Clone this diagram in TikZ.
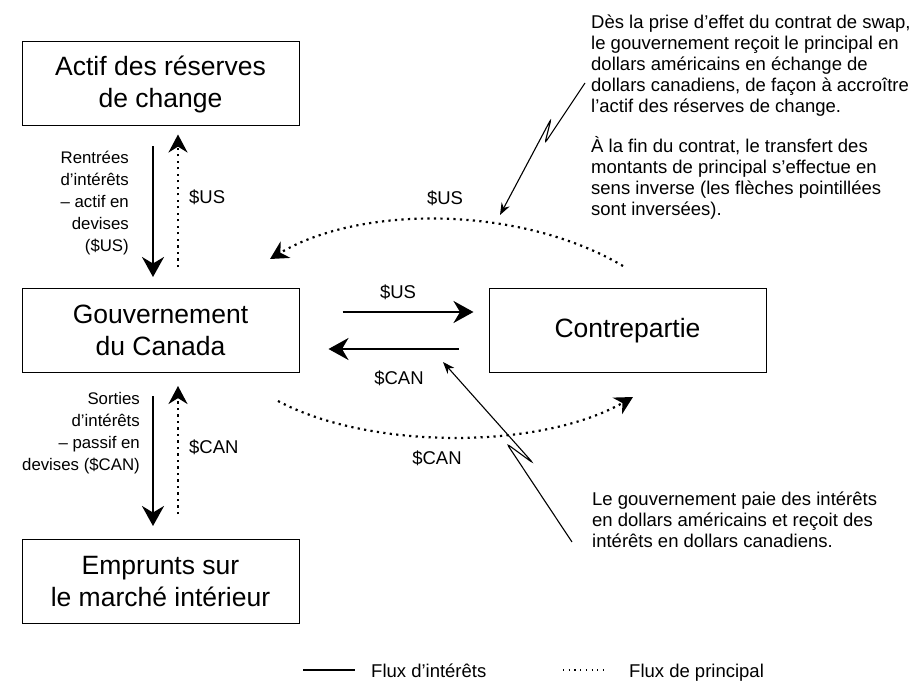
\documentclass[tikz,border=0pt]{standalone}
\usepackage{fontspec}
\setmainfont{Liberation Sans}
\usetikzlibrary{arrows.meta}

\begin{document}
\begin{tikzpicture}[x=1pt,y=-1pt,
  boite/.style={draw, line width=1pt, minimum width=277pt, minimum height=84pt,
    inner sep=0pt, align=center, font=\fontsize{26.5}{32}\selectfont},
  interet/.style={line width=2.5pt, -{Stealth[length=20pt,width=22pt]}},
  principal/.style={line width=2.2pt, dash pattern=on 2.2pt off 4.3pt,
    -{Stealth[length=18pt,width=19pt]}},
  renvoi/.style={line width=1.1pt, rounded corners=3pt,
    -{Stealth[length=12pt,width=9pt]}},
  petit/.style={font=\fontsize{18.5}{21}\selectfont, inner sep=0pt},
  cote/.style={font=\fontsize{16.8}{22}\selectfont, inner sep=0pt, align=right, anchor=east}]
  \useasboundingbox (0,0) rectangle (922,682);

  \node[boite] (Actif) at (160.5,84) {Actif des réserves\\de change};
  \node[boite] (Gouv) at (160.5,330.5) {Gouvernement\\du Canada};
  \node[boite] (Contre) at (627.5,330.5) {Contrepartie};
  \node[boite] (Empr) at (160.5,581.5) {Emprunts sur\\le marché intérieur};

  % flux verticaux
  \path[interet] ([shift={(-7.5,20)}]Actif.south) edge ([shift={(-7.5,-11)}]Gouv.north);
  \path[principal] ([shift={(17.5,-21)}]Gouv.north) edge ([shift={(17.5,8)}]Actif.south);
  \path[interet] ([shift={(-7.5,23)}]Gouv.south) edge ([shift={(-7.5,-13)}]Empr.north);
  \path[principal] ([shift={(17.5,-25)}]Empr.north) edge ([shift={(17.5,13)}]Gouv.south);

  % flux horizontaux
  \path[interet] ([shift={(43,-18.5)}]Gouv.east) edge ([shift={(-15,-18.5)}]Contre.west);
  \path[interet] ([shift={(-30,18.5)}]Contre.west) edge ([shift={(29,18.5)}]Gouv.east);
  \draw[principal] ([shift={(-4.5,-22)}]Contre.north) .. controls (520,205) and (360,205) .. ([shift={(109.5,-29)}]Gouv.north);
  \draw[principal] ([shift={(117.5,28)}]Gouv.south) .. controls (370,450) and (540,450) .. ([shift={(5.5,24)}]Contre.south);

  \node[petit] (us1) at (398,292) {\$US};
  \node[petit] (can1) at (399,378) {\$CAN};
  \node[petit] (us2) at (445,198) {\$US};
  \node[petit] (can2) at (437,458) {\$CAN};
  \node[petit, anchor=west] (us3) at (189,197) {\$US};
  \node[petit, anchor=west] (can3) at (189,447) {\$CAN};

  \node[cote] (rentrees) at (129,203)
    {Rentrées\\d’intérêts\\– actif en\\devises\\(\$US)};
  \node[cote] (sorties) at (140,433)
    {Sorties\\d’intérêts\\– passif en\\devises (\$CAN)};

  \node[petit, align=left, anchor=north west] (note1) at (591,15)
    {Dès la prise d’effet du contrat de swap,\\le gouvernement reçoit le principal en\\dollars américains en échange de\\dollars canadiens, de façon à accroître\\l’actif des réserves de change.\\[19pt]À la fin du contrat, le transfert des\\montants de principal s’effectue en\\sens inverse (les flèches pointillées\\sont inversées).};
  \node[petit, align=left, anchor=north west] (note2) at (592,492)
    {Le gouvernement paie des intérêts\\en dollars américains et reçoit des\\intérêts en dollars canadiens.};

  % renvois
  \coordinate (n1) at (585,83);
  \coordinate (t1) at (500,215);
  \draw[renvoi] (n1) -- (545,143) -- (551,119) -- (t1);
  \coordinate (n2) at (572,542);
  \coordinate (t2) at (443,362);
  \draw[renvoi] (n2) -- (507,444) -- (533,463) -- (t2);

  % legende
  \coordinate (l1a) at (303,670);
  \coordinate (l1b) at (355,670);
  \draw[line width=1.3pt] (l1a) -- (l1b);
  \node[petit, anchor=base west] (leg1) at (371,677) {Flux d’intérêts};
  \coordinate (l2a) at (563,670);
  \coordinate (l2b) at (605,670);
  \draw[line width=1.2pt, dash pattern=on 1.2pt off 4.5pt] (l2a) -- (l2b);
  \node[petit, anchor=base west] (leg2) at (629,677) {Flux de principal};
\end{tikzpicture}
\end{document}
